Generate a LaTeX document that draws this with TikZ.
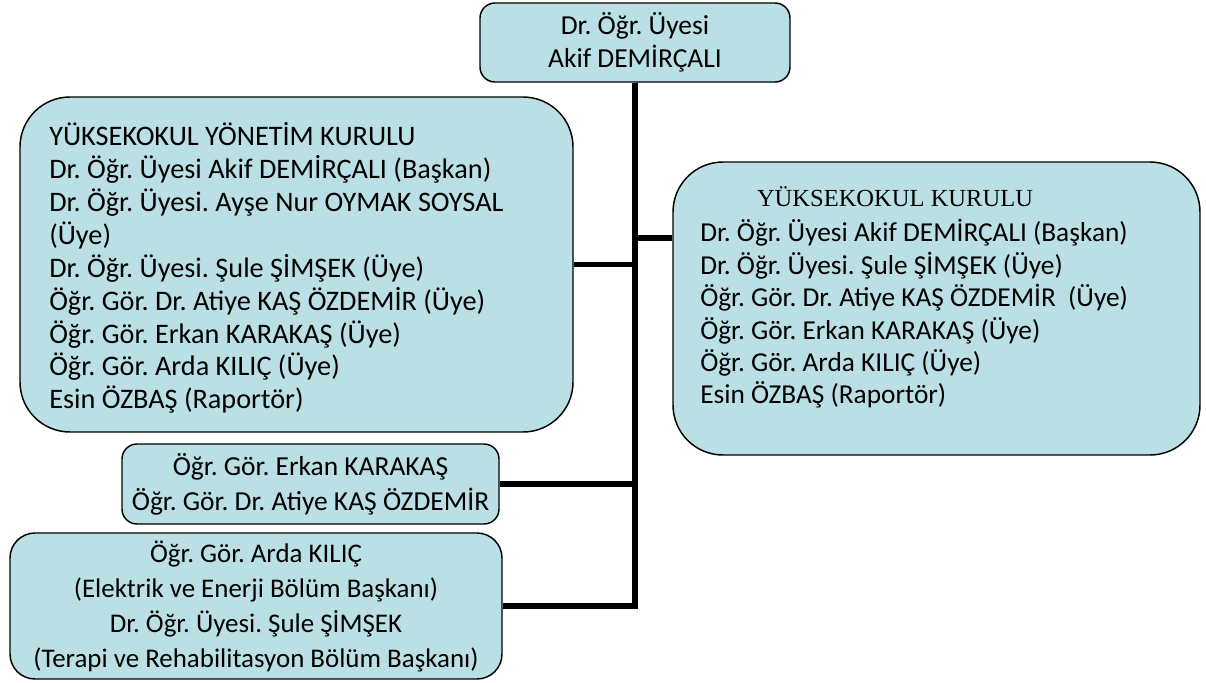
\documentclass[tikz,border=0pt]{standalone}
\usepackage{fontspec}
\setmainfont{Carlito}
\newfontfamily\serifttl{Liberation Serif}
\definecolor{boxfill}{RGB}{186,224,229}
\frenchspacing
\begin{document}
\begin{tikzpicture}[x=0.75pt,y=-0.75pt,
  box/.style={draw=black, line width=1.1pt, fill=boxfill, inner sep=0pt},
  txtL/.style={inner sep=0pt, font=\fontsize{21.2}{24.7}\selectfont},
  txtR/.style={inner sep=0pt, font=\fontsize{20.5}{24.3}\selectfont},
  txtT/.style={inner sep=0pt, font=\fontsize{20.6}{24.75}\selectfont},
  txtM/.style={inner sep=0pt, font=\fontsize{20.6}{26.25}\selectfont},
  txtB/.style={inner sep=0pt, font=\fontsize{20.2}{26.25}\selectfont},
  conn/.style={line width=4pt}]
\useasboundingbox (0,0) rectangle (1206,682);
% boxes
\node[box, rounded corners=11.25pt, minimum width=232.5pt, minimum height=59.25pt] (T) at (635,42.5) {};
\node[box, rounded corners=37.5pt, minimum width=414.75pt, minimum height=251.25pt] (L) at (296.5,264.5) {};
\node[box, rounded corners=37.5pt, minimum width=395.25pt, minimum height=219.75pt] (R) at (936.5,308.5) {};
\node[box, rounded corners=11.25pt, minimum width=282.75pt, minimum height=60pt] (M) at (310.5,484) {};
\node[box, rounded corners=18.75pt, minimum width=369pt, minimum height=109.5pt] (B) at (256,606) {};
% connectors
\coordinate (jR) at (635,238);
\draw[conn] (T.south) -- (T.south |- B.east) -- (B.east);
\draw[conn] (L.east) -- (L.east -| T.south);
\draw[conn] (M.east) -- (M.east -| T.south);
\draw[conn] (jR) -- (jR -| R.west);
% texts
\node[txtT, align=center] (Tt) at (T.center) {Dr. Öğr. Üyesi\\Akif DEMİRÇALI};
\node[txtL, align=left, anchor=west] (Lt) at (49,268) {YÜKSEKOKUL YÖNETİM KURULU\\
Dr. Öğr. Üyesi Akif DEMİRÇALI (Başkan)\\
Dr. Öğr. Üyesi. Ayşe Nur OYMAK SOYSAL\\
(Üye)\\
Dr. Öğr. Üyesi. Şule ŞİMŞEK (Üye)\\
Öğr. Gör. Dr. Atiye KAŞ ÖZDEMİR (Üye)\\
Öğr. Gör. Erkan KARAKAŞ (Üye)\\
Öğr. Gör. Arda KILIÇ (Üye)\\
Esin ÖZBAŞ (Raportör)};
\node[inner sep=0pt, font=\serifttl\fontsize{18.4}{22}\selectfont] (Rt) at (895,197) {YÜKSEKOKUL KURULU};
\node[txtR, align=left, anchor=west] (Rl) at (700,314) {Dr. Öğr. Üyesi Akif DEMİRÇALI (Başkan)\\
Dr. Öğr. Üyesi. Şule ŞİMŞEK (Üye)\\
Öğr. Gör. Dr. Atiye KAŞ ÖZDEMİR\ \ (Üye)\\
Öğr. Gör. Erkan KARAKAŞ (Üye)\\
Öğr. Gör. Arda KILIÇ (Üye)\\
Esin ÖZBAŞ (Raportör)};
\node[txtM, align=center] (Mt) at (M.center) {Öğr. Gör. Erkan KARAKAŞ\\Öğr. Gör. Dr. Atiye KAŞ ÖZDEMİR};
\node[txtB, align=center] (Bt) at (B.center) {Öğr. Gör. Arda KILIÇ\\(Elektrik ve Enerji Bölüm Başkanı)\\Dr. Öğr. Üyesi. Şule ŞİMŞEK\\(Terapi ve Rehabilitasyon Bölüm Başkanı)};
\end{tikzpicture}
\end{document}
